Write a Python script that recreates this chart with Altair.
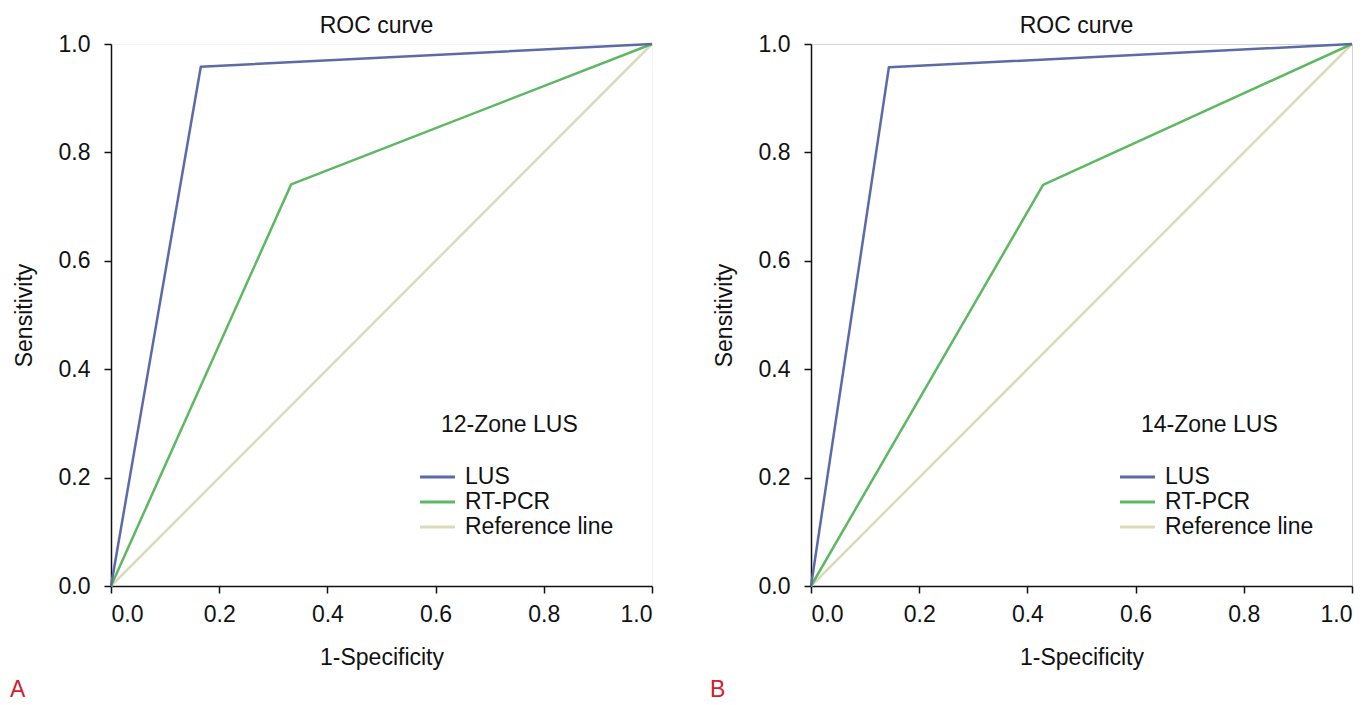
import altair as alt
import pandas as pd

FONT = "Liberation Sans"
FS = 23

series = ["LUS", "RT-PCR", "Reference line"]
colors = ["#5d6aa8", "#5db862", "#dadcb8"]
tick_values = [0.0, 0.2, 0.4, 0.6, 0.8, 1.0]

# Panel A (12-Zone LUS)
a_lus_x = [0.0, 0.166, 1.0]
a_lus_y = [0.0, 0.958, 1.0]
a_pcr_x = [0.0, 0.333, 1.0]
a_pcr_y = [0.0, 0.741, 1.0]

# Panel B (14-Zone LUS)
b_lus_x = [0.0, 0.144, 1.0]
b_lus_y = [0.0, 0.957, 1.0]
b_pcr_x = [0.0, 0.429, 1.0]
b_pcr_y = [0.0, 0.740, 1.0]

ref_x = [0.0, 1.0]
ref_y = [0.0, 1.0]

zone_labels = ["12-Zone LUS", "14-Zone LUS"]
panel_letters = ["A", "B"]

color_scale = alt.Scale(domain=series, range=colors)


def make_df(lus_x, lus_y, pcr_x, pcr_y):
    rows = []
    for name, xs, ys in [("Reference line", ref_x, ref_y),
                         ("RT-PCR", pcr_x, pcr_y),
                         ("LUS", lus_x, lus_y)]:
        for i, (x, y) in enumerate(zip(xs, ys)):
            rows.append({"series": name, "fpr": x, "tpr": y, "idx": i})
    return pd.DataFrame(rows)


legend_df = pd.DataFrame({"series": series})


def panel(df, zone_label, letter, view_stroke):
    lines = alt.Chart(df).mark_line(strokeWidth=2.5, strokeJoin="round").encode(
        x=alt.X("fpr:Q",
                scale=alt.Scale(domain=[0, 1], nice=False, zero=False),
                axis=alt.Axis(title="1-Specificity", values=tick_values, format=".1f",
                              labelPadding=10, titlePadding=20)),
        y=alt.Y("tpr:Q",
                scale=alt.Scale(domain=[0, 1], nice=False, zero=False),
                axis=alt.Axis(title="Sensitivity", values=tick_values, format=".1f",
                              labelPadding=14, titlePadding=22)),
        color=alt.Color("series:N", scale=color_scale, legend=None),
        order=alt.Order("idx:Q"),
    )
    leg_y = alt.Y("series:N", sort=series,
                  scale=alt.Scale(type="point", domain=series, range=[433, 483], padding=0),
                  axis=None)
    leg_sym = alt.Chart(legend_df).mark_rule(strokeWidth=3).encode(
        x=alt.value(309), x2=alt.value(344), y=leg_y,
        color=alt.Color("series:N", scale=color_scale, legend=None),
    )
    leg_txt = alt.Chart(legend_df).mark_text(
        align="left", baseline="middle", fontSize=FS, font=FONT, color="#111111"
    ).encode(x=alt.value(354), y=leg_y, text="series:N")
    zone = alt.Chart(pd.DataFrame({"t": [zone_label]})).mark_text(
        align="left", baseline="middle", fontSize=FS, font=FONT, color="#111111"
    ).encode(x=alt.value(330), y=alt.value(381), text="t:N")
    let = alt.Chart(pd.DataFrame({"t": [letter]})).mark_text(
        align="left", baseline="bottom", fontSize=FS, font=FONT, color="#d0202f"
    ).encode(x=alt.value(-101), y=alt.value(658), text="t:N")
    return alt.layer(lines, leg_sym, leg_txt, zone, let).resolve_scale(
        y="independent"
    ).properties(
        width=541, height=542,
        title=alt.TitleParams("ROC curve", fontSize=FS, font=FONT, fontWeight="normal",
                              color="#111111", dx=-5, offset=-5),
        view=alt.ViewBackground(stroke=view_stroke, strokeWidth=1),
    )


dfa = make_df(a_lus_x, a_lus_y, a_pcr_x, a_pcr_y)
dfb = make_df(b_lus_x, b_lus_y, b_pcr_x, b_pcr_y)

chart = alt.hconcat(
    panel(dfa, zone_labels[0], panel_letters[0], "#f3f3f3"),
    panel(dfb, zone_labels[1], panel_letters[1], "#d4d4d4"),
    spacing=55,
).properties(
    padding={"left": 1, "top": 6, "right": 5, "bottom": 5}
).configure_axis(
    grid=False,
    domainColor="#111111", domainWidth=1.5,
    tickColor="#111111", tickWidth=1.5, tickSize=7,
    labelFont=FONT, labelFontSize=FS, labelColor="#111111",
    titleFont=FONT, titleFontSize=FS, titleColor="#111111", titleFontWeight="normal",
).configure_view(stroke=None)

chart.save("out.html", embed_options={"renderer": "svg", "actions": False})
